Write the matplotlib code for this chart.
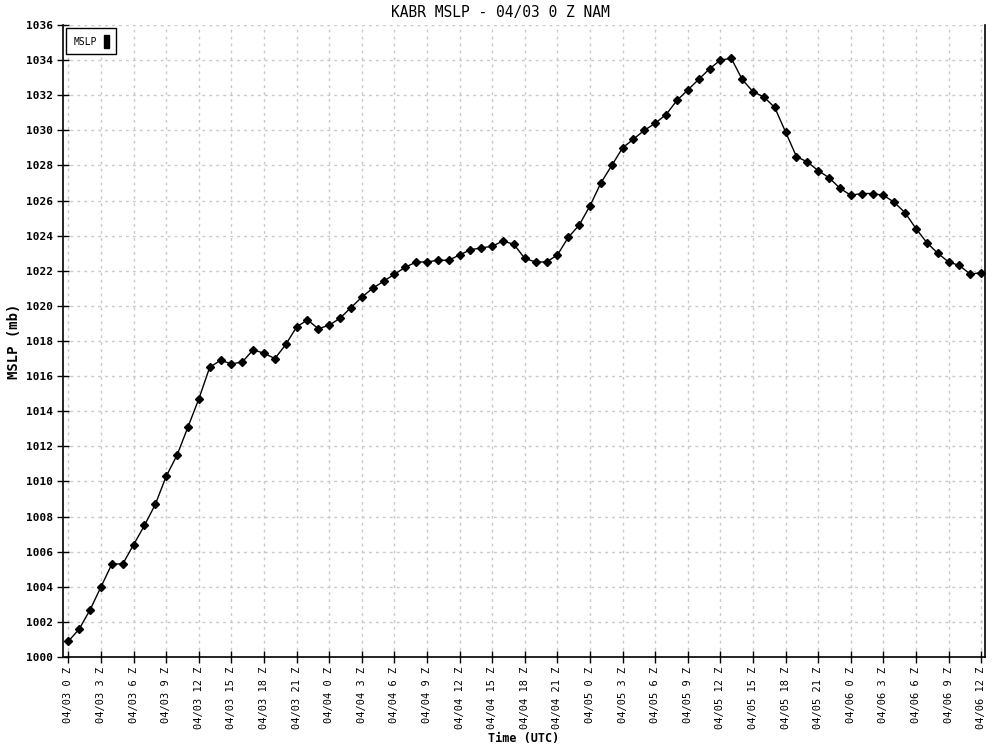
import matplotlib.pyplot as plt
from matplotlib.patches import Patch

# hourly forecast hours 0..84 from 04/03 0 Z
hours = list(range(85))
mslp = [
    1000.9, 1001.6, 1002.7, 1004.0, 1005.3, 1005.3, 1006.4, 1007.5, 1008.7, 1010.3,
    1011.5, 1013.1, 1014.7, 1016.5, 1016.9, 1016.7, 1016.8, 1017.5, 1017.3, 1017.0,
    1017.8, 1018.8, 1019.2, 1018.7, 1018.9, 1019.3, 1019.9, 1020.5, 1021.0, 1021.4,
    1021.8, 1022.2, 1022.5, 1022.5, 1022.6, 1022.6, 1022.9, 1023.2, 1023.3, 1023.4,
    1023.7, 1023.5, 1022.7, 1022.5, 1022.5, 1022.9, 1023.9, 1024.6, 1025.7, 1027.0,
    1028.0, 1029.0, 1029.5, 1030.0, 1030.4, 1030.9, 1031.7, 1032.3, 1032.9, 1033.5,
    1034.0, 1034.1, 1032.9, 1032.2, 1031.9, 1031.3, 1029.9, 1028.5, 1028.2, 1027.7,
    1027.3, 1026.7, 1026.3, 1026.4, 1026.4, 1026.3, 1025.9, 1025.3, 1024.4, 1023.6,
    1023.0, 1022.5, 1022.3, 1021.8, 1021.9,
]

tick_hours = list(range(0, 85, 3))
tick_labels = [
    "04/03 0 Z", "04/03 3 Z", "04/03 6 Z", "04/03 9 Z", "04/03 12 Z", "04/03 15 Z",
    "04/03 18 Z", "04/03 21 Z", "04/04 0 Z", "04/04 3 Z", "04/04 6 Z", "04/04 9 Z",
    "04/04 12 Z", "04/04 15 Z", "04/04 18 Z", "04/04 21 Z", "04/05 0 Z", "04/05 3 Z",
    "04/05 6 Z", "04/05 9 Z", "04/05 12 Z", "04/05 15 Z", "04/05 18 Z", "04/05 21 Z",
    "04/06 0 Z", "04/06 3 Z", "04/06 6 Z", "04/06 9 Z", "04/06 12 Z",
]
y_ticks = list(range(1000, 1037, 2))

plt.rcParams["font.family"] = "DejaVu Sans Mono"

fig = plt.figure(figsize=(10, 7.5), dpi=100)
ax = fig.add_axes([0.063, 0.124, 0.922, 0.8427])

ax.plot(hours, mslp, color="black", linewidth=1, marker="D", markersize=4.5,
        label="MSLP", zorder=3)

ax.set_xlim(-0.5, 84.35)
ax.set_ylim(1000, 1036)
ax.set_xticks(tick_hours)
ax.set_xticklabels(tick_labels, rotation=90, fontsize=7.5)
ax.set_yticks(y_ticks)
ax.set_yticklabels([str(v) for v in y_ticks], fontsize=8, fontweight="bold")
ax.tick_params(direction="inout", length=8, width=1, color="black", pad=3)

ax.grid(True, color="#c8c8c8", linestyle=(0, (2, 3)), linewidth=1)
ax.set_axisbelow(True)
ax.spines["top"].set_visible(False)
for s in ["left", "bottom", "right"]:
    ax.spines[s].set_linewidth(1.2)

fig.text(0.5, 0.984, "KABR MSLP - 04/03 0 Z NAM", fontsize=10.5,
         ha="center", va="center")
ax.set_ylabel("MSLP (mb)", fontsize=10, fontweight="bold", labelpad=4)
ax.set_xlabel("Time (UTC)", fontsize=8.5, fontweight="bold", labelpad=2)

handle = Patch(facecolor="black", edgecolor="black")
leg = ax.legend([handle], ["MSLP"], loc="upper left", markerfirst=False,
                handlelength=0.5, handleheight=1.6, fontsize=7, fancybox=False,
                framealpha=1, edgecolor="black", borderaxespad=0.35,
                borderpad=0.7, handletextpad=0.8)
leg.get_frame().set_linewidth(1)

fig.savefig("out.png", dpi=100)
